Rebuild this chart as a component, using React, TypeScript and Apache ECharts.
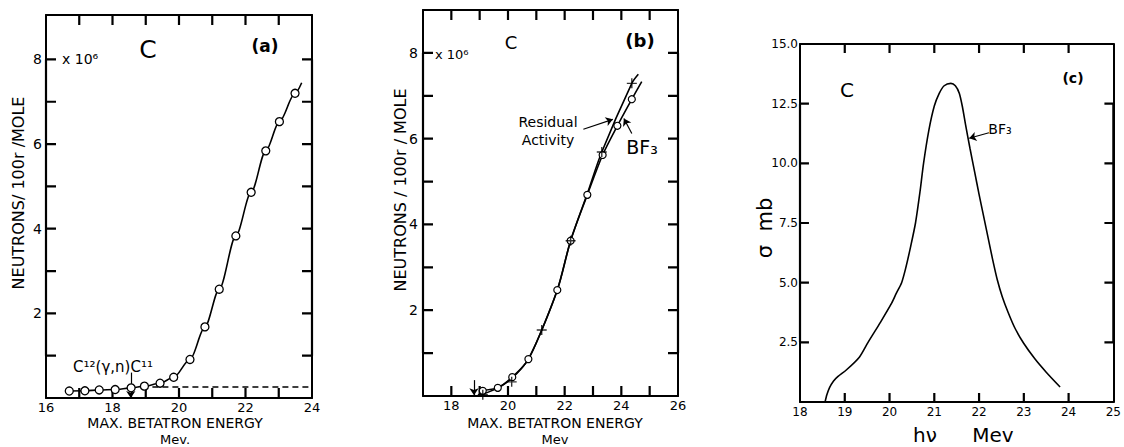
import React, { useEffect, useRef } from 'react';
import * as echarts from 'echarts';

// ---------- Panel (a): C12(γ,n)C11 yield ----------
const A_X = [16.7, 17.17, 17.6, 18.08, 18.56, 18.96, 19.43, 19.84, 20.33, 20.78, 21.21, 21.71, 22.17, 22.61, 23.02, 23.49];
const A_Y = [0.165, 0.17, 0.19, 0.2, 0.24, 0.28, 0.35, 0.49, 0.91, 1.68, 2.57, 3.83, 4.86, 5.84, 6.53, 7.2];
const A_CURVE_END = [23.69, 7.45];
const A_BASE_X = [19.2, 23.95];
const A_BASE_Y = 0.26;
const A_THRESHOLD = 18.55;
const A_X_LABELS = [16, 18, 20, 22, 24];
const A_Y_LABELS = [2, 4, 6, 8];
const A_X_TICKS = [17, 18, 19, 20, 21, 22, 23];
const A_Y_TICKS = [1, 2, 3, 4, 5, 6, 7, 8];

// ---------- Panel (b): BF3 vs residual activity ----------
const B_BF3_X = [19.11, 19.64, 20.15, 20.72, 21.74, 22.21, 22.8, 23.34, 23.86, 24.37];
const B_BF3_Y = [0.12, 0.19, 0.44, 0.86, 2.47, 3.62, 4.69, 5.62, 6.3, 6.92];
const B_BF3_START = [18.95, 0];
const B_BF3_END = [24.72, 7.33];
const B_RES_X = [19.11, 20.13, 21.19, 22.21, 23.31, 24.37];
const B_RES_Y = [0.03, 0.33, 1.54, 3.62, 5.69, 7.29];
const B_RES_CURVE_X = [18.95, 19.64, 20.15, 20.72, 21.19, 21.74, 22.21, 22.8, 23.31, 24.37, 24.6];
const B_RES_CURVE_Y = [0, 0.19, 0.42, 0.86, 1.54, 2.47, 3.62, 4.72, 5.69, 7.29, 7.5];
const B_THRESHOLD = 18.8;
const B_X_LABELS = [18, 20, 22, 24, 26];
const B_Y_LABELS = [2, 4, 6, 8];
const B_X_TICKS = [18, 19, 20, 21, 22, 23, 24, 25];
const B_Y_TICKS = [1, 2, 3, 4, 5, 6, 7, 8];

// ---------- Panel (c): cross section ----------
const C_X = [18.56, 18.6, 18.66, 18.75, 18.85, 19.04, 19.33, 19.52, 19.8, 20.05, 20.15, 20.27, 20.36, 20.47, 20.58, 20.68, 20.76, 20.88, 21.0, 21.11, 21.22, 21.37, 21.47, 21.56, 21.63, 21.7, 21.8, 21.9, 22.0, 22.1, 22.2, 22.3, 22.41, 22.52, 22.65, 22.8, 23.0, 23.25, 23.5, 23.81];
const C_Y = [0, 0.3, 0.6, 0.88, 1.07, 1.35, 1.89, 2.5, 3.35, 4.15, 4.55, 5.0, 5.6, 6.5, 7.5, 8.8, 10.0, 11.4, 12.4, 12.93, 13.25, 13.35, 13.25, 12.93, 12.35, 11.6, 10.6, 9.65, 8.7, 7.8, 6.9, 6.0, 5.1, 4.4, 3.75, 3.1, 2.45, 1.8, 1.25, 0.63];
const C_X_TICKS = [19, 20, 21, 22, 23, 24];
const C_Y_TICKS = [2.5, 5, 7.5, 10, 12.5];

const zip = (xs: number[], ys: number[]) => xs.map((x, i) => [x, ys[i]]);
const FONT = '"DejaVu Sans"';

const grids = [
  { left: 46, top: 15, width: 266, height: 383 },
  { left: 423, top: 10, width: 255, height: 386 },
  { left: 800, top: 44, width: 315, height: 358 },
];

const A_RANGE = { x: [16, 24], y: [0, 9.05] };
const B_RANGE = { x: [17, 26], y: [0, 9] };
const C_RANGE = { x: [18, 25], y: [0, 15] };

const pick = (allowed: number[], digits = 0) => (v: number) =>
  allowed.some((a) => Math.abs(a - v) < 1e-6) ? v.toFixed(digits) : '';

function axisPair(kind: 'x' | 'y', grid: number, min: number, max: number, interval: number, fmt: (v: number) => string, fontSize: number, margin: number) {
  const common = {
    type: 'value',
    gridIndex: grid,
    min,
    max,
    interval,
    splitLine: { show: false },
    axisLine: { show: true, onZero: false, lineStyle: { color: '#000', width: 2 } },
    axisTick: { show: false },
  };
  return [
    {
      ...common,
      position: kind === 'x' ? 'bottom' : 'left',
      axisLabel: { show: true, formatter: fmt, color: '#000', fontFamily: FONT, fontSize, margin },
    },
    {
      ...common,
      position: kind === 'x' ? 'top' : 'right',
      axisLabel: { show: false },
    },
  ];
}

// inward tick marks drawn as "comb" line series running along each frame side
function tickCombs(axisIdx: number, gridIdx: number, range: { x: number[]; y: number[] }, xt: number[], yt: number[], lenPx: number) {
  const g = grids[gridIdx];
  const dx = (lenPx * (range.x[1] - range.x[0])) / g.width;
  const dy = (lenPx * (range.y[1] - range.y[0])) / g.height;
  const [x0, x1] = range.x;
  const [y0, y1] = range.y;
  const sides = [
    xt.flatMap((v) => [[v, y0], [v, y0 + dy], [v, y0]]),
    xt.flatMap((v) => [[v, y1], [v, y1 - dy], [v, y1]]),
    yt.flatMap((v) => [[x0, v], [x0 + dx, v], [x0, v]]),
    yt.flatMap((v) => [[x1, v], [x1 - dx, v], [x1, v]]),
  ];
  return sides.map((data) => ({
    type: 'line',
    xAxisIndex: axisIdx,
    yAxisIndex: axisIdx,
    showSymbol: false,
    silent: true,
    clip: false,
    z: 6,
    lineStyle: { color: '#000', width: 2.2 },
    data,
  }));
}

const arrows = (pairs: number[][][]) => ({
  silent: true,
  symbol: ['none', 'arrow'],
  symbolSize: 7,
  label: { show: false },
  lineStyle: { type: 'solid', color: '#000', width: 1.2 },
  data: pairs.map(([a, b]) => [{ coord: a }, { coord: b }]),
});

const txt = (text: string, x: number, y: number, size: number, opts: any = {}) => ({
  type: 'text',
  x,
  y,
  rotation: opts.rot || 0,
  silent: true,
  style: {
    text,
    fill: '#000',
    font: `${opts.weight || 'normal'} ${size}px ${FONT}`,
    textAlign: opts.align || 'center',
    align: opts.align || 'center',
    textVerticalAlign: 'middle',
    verticalAlign: 'middle',
  },
});

const lineStyle = { color: '#000', width: 1.6 };

const option: any = {
  animation: false,
  backgroundColor: '#fff',
  grid: grids,
  xAxis: [
    ...axisPair('x', 0, A_RANGE.x[0], A_RANGE.x[1], 1, pick(A_X_LABELS), 13, 3),
    ...axisPair('x', 1, B_RANGE.x[0], B_RANGE.x[1], 1, pick(B_X_LABELS), 13, 3),
    ...axisPair('x', 2, C_RANGE.x[0], C_RANGE.x[1], 1, (v: number) => String(v), 12, 4),
  ],
  yAxis: [
    ...axisPair('y', 0, A_RANGE.y[0], A_RANGE.y[1], 1, pick(A_Y_LABELS), 14, 4),
    ...axisPair('y', 1, B_RANGE.y[0], B_RANGE.y[1], 1, pick(B_Y_LABELS), 14, 5),
    ...axisPair('y', 2, C_RANGE.y[0], C_RANGE.y[1], 2.5, (v: number) => (v > 0 ? v.toFixed(1) : ''), 12, 2),
  ],
  series: [
    // (a)
    ...tickCombs(0, 0, A_RANGE, A_X_TICKS, A_Y_TICKS, 10),
    {
      type: 'line', xAxisIndex: 0, yAxisIndex: 0, smooth: 0.3, smoothMonotone: 'x', showSymbol: false, z: 4,
      lineStyle, data: [...zip(A_X, A_Y), A_CURVE_END],
      markLine: arrows([[[A_THRESHOLD, 0.6], [A_THRESHOLD, 0.0]]]),
    },
    {
      type: 'line', xAxisIndex: 0, yAxisIndex: 0, showSymbol: false, z: 4,
      lineStyle: { color: '#000', width: 1.3, type: [6, 4] },
      data: A_BASE_X.map((x) => [x, A_BASE_Y]),
    },
    {
      type: 'scatter', xAxisIndex: 0, yAxisIndex: 0, symbol: 'circle', symbolSize: 8, z: 10,
      itemStyle: { color: '#fff', borderColor: '#000', borderWidth: 1.3, opacity: 1 },
      data: zip(A_X, A_Y),
    },
    // (b)
    ...tickCombs(2, 1, B_RANGE, B_X_TICKS, B_Y_TICKS, 10),
    {
      name: 'Residual Activity', type: 'line', xAxisIndex: 2, yAxisIndex: 2, smooth: 0.3, showSymbol: false, z: 4,
      lineStyle, data: zip(B_RES_CURVE_X, B_RES_CURVE_Y),
      markLine: arrows([
        [[B_THRESHOLD, 0.37], [B_THRESHOLD, 0.02]],
        [[22.66, 6.22], [23.7, 6.45]],
      ]),
    },
    {
      name: 'BF3', type: 'line', xAxisIndex: 2, yAxisIndex: 2, smooth: 0.3, showSymbol: false, z: 4,
      lineStyle, data: [B_BF3_START, ...zip(B_BF3_X, B_BF3_Y), B_BF3_END],
      markLine: arrows([[[24.37, 6.12], [24.09, 6.47]]]),
    },
    {
      type: 'scatter', xAxisIndex: 2, yAxisIndex: 2, symbol: 'circle', symbolSize: 7, z: 10,
      itemStyle: { color: '#fff', borderColor: '#000', borderWidth: 1.2, opacity: 1 },
      data: zip(B_BF3_X, B_BF3_Y),
    },
    {
      type: 'scatter', xAxisIndex: 2, yAxisIndex: 2, z: 11,
      symbol: 'path://M4.3,0H5.7V4.3H10V5.7H5.7V10H4.3V5.7H0V4.3H4.3Z', symbolSize: 10,
      itemStyle: { color: '#000' },
      data: zip(B_RES_X, B_RES_Y),
    },
    // (c)
    ...tickCombs(4, 2, C_RANGE, C_X_TICKS, C_Y_TICKS, 9),
    {
      name: 'BF3', type: 'line', xAxisIndex: 4, yAxisIndex: 4, smooth: 0.25, showSymbol: false, z: 4,
      lineStyle, data: zip(C_X, C_Y),
      markLine: arrows([[[22.22, 11.28], [21.78, 11.05]]]),
    },
  ],
  graphic: [
    // (a)
    txt('NEUTRONS/ 100r /MOLE', 18, 193, 16, { rot: Math.PI / 2 }),
    txt('MAX. BETATRON ENERGY', 175, 423, 14),
    txt('Mev.', 175, 439, 13),
    txt('C', 148, 49, 25),
    txt('(a)', 265, 46, 17, { weight: 'bold' }),
    txt('x 10⁶', 62, 59, 14, { align: 'left' }),
    txt('C¹²(γ,n)C¹¹', 113, 367, 15),
    // (b)
    txt('NEUTRONS / 100r / MOLE', 400, 190, 16, { rot: Math.PI / 2 }),
    txt('MAX. BETATRON ENERGY', 555, 423, 14),
    txt('Mev', 555, 439, 13),
    txt('C', 511, 42, 18),
    txt('(b)', 640, 40, 18, { weight: 'bold' }),
    txt('x 10⁶', 435, 54, 13, { align: 'left' }),
    txt('Residual', 548, 122, 14),
    txt('Activity', 548, 140, 14),
    txt('BF₃', 642, 147, 19),
    // (c)
    txt('σ  mb', 765, 228, 21, { rot: Math.PI / 2 }),
    txt('C', 847, 90, 20),
    txt('(c)', 1073, 78, 14, { weight: 'bold' }),
    txt('BF₃', 1000, 129, 14),
    txt('hν', 925, 435, 20),
    txt('Mev', 993, 435, 20),
  ],
};

export default function App() {
  const ref = useRef<HTMLDivElement>(null);
  useEffect(() => {
    const chart = echarts.init(ref.current as HTMLDivElement, null, { renderer: 'svg' });
    chart.setOption(option);
    return () => chart.dispose();
  }, []);
  return (
    <div
      ref={ref}
      style={{ position: 'fixed', left: 0, top: 0, width: 1124, height: 447, background: '#fff' }}
    />
  );
}
